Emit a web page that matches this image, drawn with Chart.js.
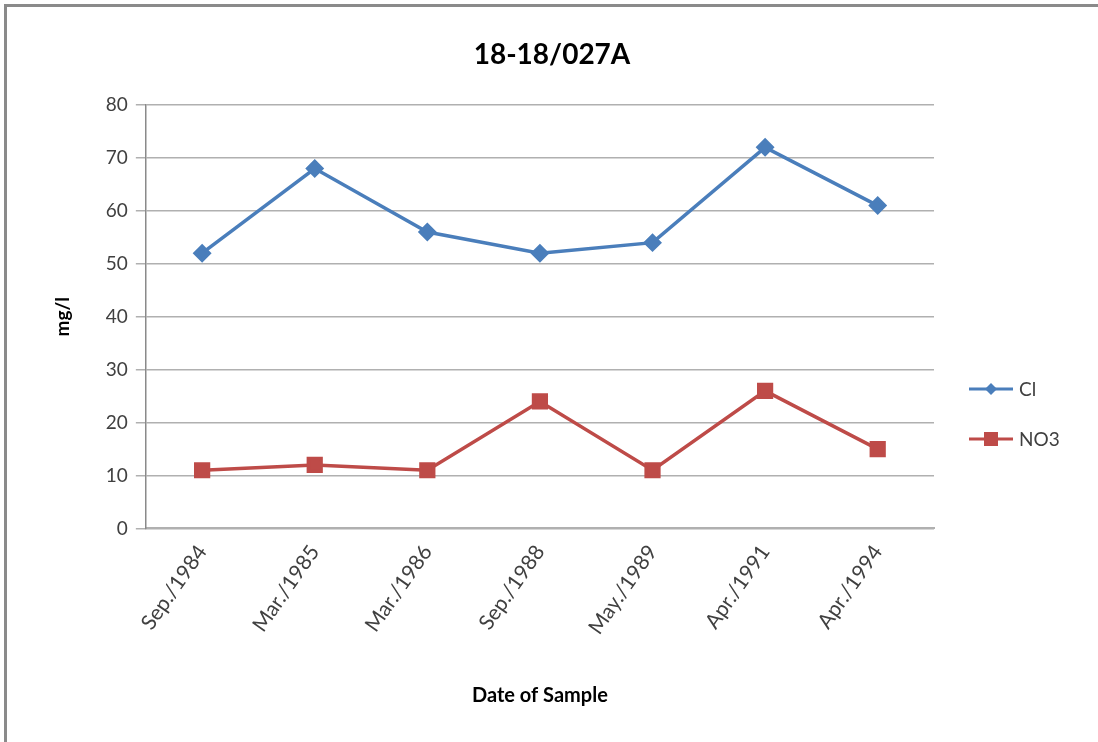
<!DOCTYPE html>
<html>
<head>
<meta charset="utf-8">
<script src="https://cdn.jsdelivr.net/npm/chart.js@4/dist/chart.umd.min.js"></script>
<style>
    html, body { margin: 0; padding: 0; background: #fff; }
    #wrap {
        position: relative; width: 1098px; height: 742px; box-sizing: border-box;
        border-top: 3px solid #8a8a8a; border-left: 3px solid #8a8a8a;
        margin: 4px 0 0 4px;
    }
</style>
</head>
<body>
<div id="wrap"><canvas id="chart"></canvas></div>
<script>
const labels = ['Sep./1984', 'Mar./1985', 'Mar./1986', 'Sep./1988', 'May./1989', 'Apr./1991', 'Apr./1994'];
const clVals = [52, 68, 56, 52, 54, 72, 61];
const no3Vals = [11, 12, 11, 24, 11, 26, 15];
const yTicks = [0, 10, 20, 30, 40, 50, 60, 70, 80];

const FONT = 'Lato, "Open Sans", sans-serif';
const TXT = '#404040';

// Заголовок по центру всего холста и легенда справа (линия с маркером, как в Excel)
const sideLegend = {
    id: 'sideLegend',
    afterDraw(chart) {
        const ctx = chart.ctx;
        ctx.save();
        ctx.fillStyle = '#000';
        ctx.font = 'bold 28px ' + FONT;
        ctx.textAlign = 'center';
        ctx.textBaseline = 'middle';
        ctx.fillText('18-18/027A', 545, 48);
        ctx.restore();

        const x0 = 962, yPos = [382, 432];
        chart.data.datasets.forEach((ds, i) => {
            const y = yPos[i];
            ctx.save();
            ctx.strokeStyle = ds.borderColor;
            ctx.lineWidth = 3;
            ctx.beginPath(); ctx.moveTo(x0, y); ctx.lineTo(x0 + 44, y); ctx.stroke();
            ctx.fillStyle = ds.backgroundColor;
            const cx = x0 + 22;
            if (ds.pointStyle === 'rectRot') {
                ctx.beginPath();
                ctx.moveTo(cx, y - 6); ctx.lineTo(cx + 6, y); ctx.lineTo(cx, y + 6); ctx.lineTo(cx - 6, y);
                ctx.closePath(); ctx.fill();
            } else {
                ctx.fillRect(cx - 7, y - 7, 14, 14);
            }
            ctx.fillStyle = TXT;
            ctx.font = '19px ' + FONT;
            ctx.textBaseline = 'middle';
            ctx.fillText(ds.label, x0 + 50, y + 1);
            ctx.restore();
        });
    }
};

new Chart(document.getElementById('chart'), {
    type: 'line',
    data: {
        labels: labels,
        datasets: [{
            label: 'Cl',
            data: clVals,
            borderColor: '#4a7ebb',
            backgroundColor: '#4a7ebb',
            borderWidth: 3.5,
            pointStyle: 'rectRot',
            pointRadius: 7,
            pointHoverRadius: 7,
            tension: 0
        }, {
            label: 'NO3',
            data: no3Vals,
            borderColor: '#be4b48',
            backgroundColor: '#be4b48',
            borderWidth: 3.5,
            pointStyle: 'rect',
            pointRadius: 9,
            pointHoverRadius: 9,
            tension: 0
        }]
    },
    options: {
        responsive: true,
        maintainAspectRatio: false,
        animation: false,
        layout: { padding: { left: 40, right: 168, top: 98, bottom: 34 } },
        plugins: {
            legend: { display: false },
            tooltip: { enabled: false }
        },
        scales: {
            x: {
                offset: true,
                grid: { display: false, drawTicks: false },
                border: { color: '#b0b0b0', width: 2 },
                ticks: {
                    color: TXT, font: { family: FONT, size: 21 },
                    maxRotation: 55, minRotation: 55, padding: 12
                },
                title: {
                    display: true, text: 'Date of Sample', color: '#000',
                    font: { family: FONT, size: 20, weight: 'bold' },
                    padding: { top: 33 }
                }
            },
            y: {
                min: 0, max: 80,
                afterBuildTicks: axis => { axis.ticks = yTicks.map(v => ({ value: v })); },
                grid: { color: '#b0b0b0', lineWidth: 1.5, tickLength: 10 },
                border: { color: '#8a8a8a', width: 1.5 },
                ticks: { color: TXT, font: { family: FONT, size: 19 }, padding: 8 },
                title: {
                    display: true, text: 'mg/l', color: '#000',
                    font: { family: FONT, size: 19, weight: 'bold' },
                    padding: { bottom: 24 }
                }
            }
        }
    },
    plugins: [sideLegend]
});
</script>
</body>
</html>
